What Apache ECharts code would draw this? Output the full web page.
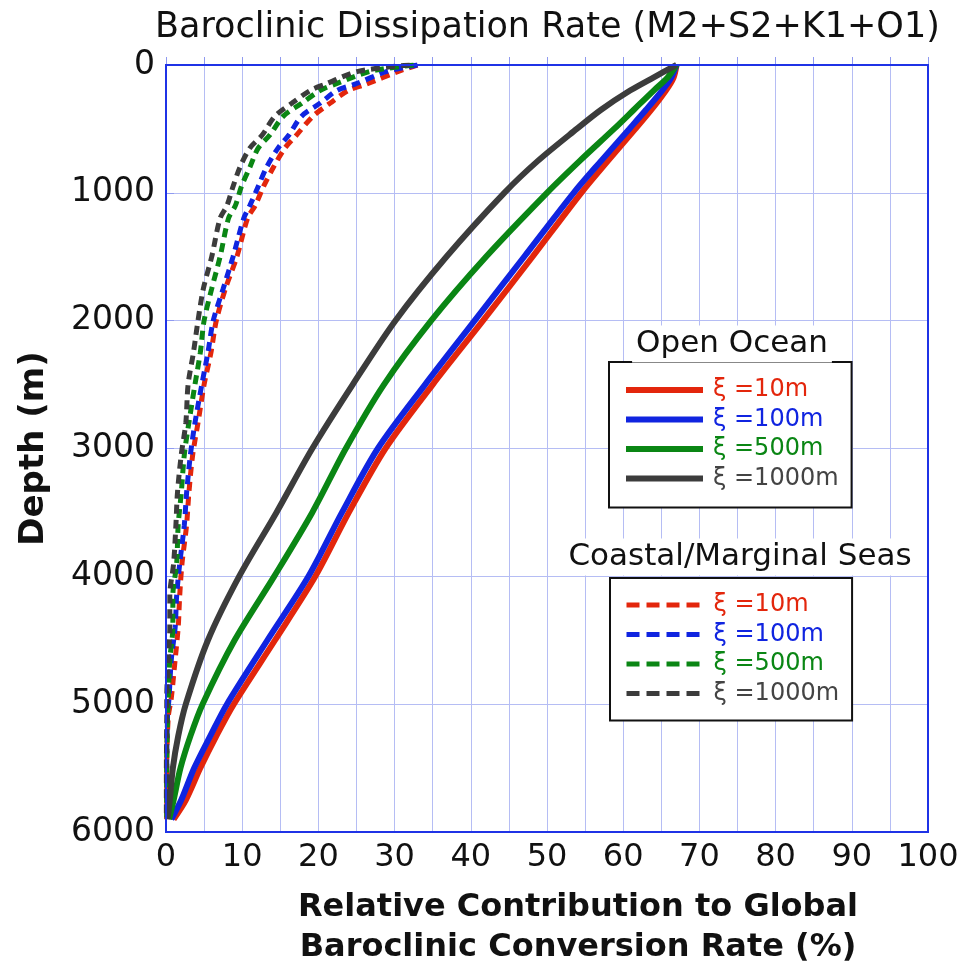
<!DOCTYPE html>
<html>
<head>
<meta charset="utf-8">
<script src="https://cdn.jsdelivr.net/npm/echarts@6/dist/echarts.min.js"></script>
<style>
html, body { margin: 0; padding: 0; background: #fff; }
#main { width: 967px; height: 968px; }
</style>
</head>
<body>
<div id="main"></div>
<script>
// open ocean (solid lines)
var openDepth = [0, 100, 200, 350, 500, 750, 1000, 1500, 2000, 2500, 3000, 3500, 4000, 4500, 5000, 5250, 5500, 5750, 5900];
var open10   = [67, 66.6, 65.6, 63.7, 61.6, 58.0, 54.5, 48.1, 41.6, 35.0, 28.8, 24.0, 19.6, 14.3, 8.9, 6.6, 4.5, 2.6, 1.0];
var open100  = [67, 66.3, 65.1, 63.0, 60.8, 57.1, 53.5, 47.0, 40.5, 34.0, 27.8, 23.1, 18.7, 13.3, 8.0, 5.8, 3.7, 2.0, 0.7];
var open500  = [67, 65.8, 64.0, 61.4, 58.8, 54.3, 50.0, 42.0, 34.8, 28.6, 23.6, 19.2, 14.2, 9.0, 4.8, 3.2, 1.9, 1.0, 0.4];
var open1000 = [67, 63.9, 60.9, 57.1, 53.9, 48.8, 44.4, 36.8, 30.1, 24.5, 19.2, 14.5, 9.6, 5.5, 2.6, 1.6, 0.9, 0.5, 0.2];

// coastal / marginal seas (dashed lines)
var coastDepth = [0, 50, 150, 200, 300, 400, 550, 650, 800, 950, 1100, 1200, 1500, 1750, 2000, 2250, 2500, 2800, 3050, 3350, 3600, 3900, 4150, 4400, 4650, 4950, 5100, 5500, 5900];
var coast10   = [33, 30.5, 26.3, 23.9, 21.5, 19.3, 17.1, 15.6, 14.1, 12.8, 11.7, 10.7, 9.3, 7.8, 6.6, 5.9, 5.0, 4.2, 3.5, 3.0, 2.7, 2.1, 1.8, 1.6, 1.2, 0.7, 0.3, 0.1, 0.1];
var coast100  = [33, 29.0, 24.8, 22.4, 20.2, 17.8, 16.1, 14.7, 13.2, 12.1, 11.0, 10.2, 8.8, 7.5, 6.2, 5.5, 4.7, 3.8, 3.2, 2.7, 2.4, 1.8, 1.4, 1.2, 0.7, 0.4, 0.2, 0.1, 0.1];
var coast500  = [32.5, 26.8, 22.2, 20.2, 17.8, 15.4, 13.6, 12.1, 11.0, 9.9, 9.1, 8.2, 7.1, 6.0, 5.0, 4.5, 3.8, 3.0, 2.4, 2.0, 1.6, 1.4, 0.9, 0.9, 0.5, 0.3, 0.2, 0.1, 0.1];
var coast1000 = [32, 25.2, 20.9, 18.9, 16.5, 14.3, 12.6, 11.0, 9.7, 8.8, 8.0, 7.1, 6.0, 4.9, 4.2, 3.6, 2.9, 2.6, 2.0, 1.5, 1.3, 1.0, 0.5, 0.5, 0.3, 0.1, 0.1, 0.05, 0.05];

var xTicks = [0, 10, 20, 30, 40, 50, 60, 70, 80, 90, 100];
var yTicks = [0, 1000, 2000, 3000, 4000, 5000, 6000];

var colors = { r: '#e3260c', b: '#1024e0', g: '#0a8614', k: '#3c3c3c' };
var labels = {
	o10: 'ξ =10m', o100: 'ξ =100m', o500: 'ξ =500m', o1000: 'ξ =1000m',
	c10: 'ξ =10m', c100: 'ξ =100m', c500: 'ξ =500m', c1000: 'ξ =1000m'
};
var gridColor = '#b5bdf4';
var font = 'DejaVu Sans';

function pairs(vals, depth){
	var out = [];
	for(var i=0; i<vals.length; i++){
		out.push([vals[i], depth[i]]);
	}
	return out;
}

function mkSeries(name, vals, depth, color, dashed){
	return {
		name: name,
		type: 'line',
		data: pairs(vals, depth),
		smooth: 0.3,
		symbol: 'none',
		lineStyle: {
			color: color,
			width: dashed ? 5 : 6,
			type: dashed ? [9, 6] : 'solid'
		},
		itemStyle: { color: color },
		z: dashed ? 3 : 4
	};
}

function legendData(keys, cols){
	var d = [];
	for(var i=0; i<keys.length; i++){
		d.push({ name: keys[i], textStyle: { color: cols[i] } });
	}
	return d;
}

function mkLegend(left, top, pad, keys, dash){
	return {
		left: left, top: top,
		padding: pad,
		orient: 'vertical',
		itemWidth: 77,
		itemHeight: 24,
		itemGap: 5.5,
		backgroundColor: '#fff',
		borderColor: '#111',
		borderWidth: 2,
		borderRadius: 0,
		itemStyle: { opacity: 0 },
		lineStyle: { width: dash ? 5 : 6, type: dash ? [13, 7] : 'solid' },
		textStyle: { fontFamily: font, fontSize: 24, padding: [0, 0, 0, 5] },
		formatter: function(n){ return labels[n]; },
		selectedMode: false,
		data: legendData(keys, [colors.r, colors.b, colors.g, '#444'])
	};
}

var chart = echarts.init(document.getElementById('main'), null, { renderer: 'canvas' });

var option = {
	backgroundColor: '#fff',
	animation: false,
	title: {
		text: 'Baroclinic Dissipation Rate (M2+S2+K1+O1)',
		left: 150,
		top: 5,
		textStyle: { fontFamily: font, fontSize: 35, fontWeight: 'normal', color: '#111' }
	},
	grid: {
		left: 166, right: 39, top: 65, bottom: 136,
		outerBoundsMode: 'none',
		containLabel: false,
		show: true,
		borderColor: '#1f33e6',
		borderWidth: 2,
		z: 5
	},
	xAxis: {
		type: 'value',
		min: 0, max: 100, interval: 10,
		name: 'Relative Contribution to Global\nBaroclinic Conversion Rate (%)',
		nameLocation: 'middle',
		nameGap: 56,
		nameTextStyle: { fontFamily: font, fontSize: 32, fontWeight: 'bold', color: '#111', lineHeight: 40, padding: [0, 0, 0, 62] },
		axisLine: { show: false },
		axisTick: { show: true, inside: true, length: 8, lineStyle: { color: '#8f9af0' } },
		minorTick: { show: true, splitNumber: 2, length: 8, lineStyle: { color: '#8f9af0' } },
		axisLabel: {
			fontFamily: font, fontSize: 32, color: '#111', margin: 10,
			formatter: function(v){ return xTicks.indexOf(v) >= 0 ? String(v) : ''; }
		},
		splitLine: { show: true, lineStyle: { color: gridColor, width: 1 } },
		minorSplitLine: { show: true, lineStyle: { color: gridColor, width: 1 } }
	},
	yAxis: {
		type: 'value',
		inverse: true,
		min: 0, max: 6000, interval: 1000,
		name: 'Depth (m)',
		nameLocation: 'middle',
		nameGap: 115,
		nameTextStyle: { fontFamily: font, fontSize: 34, fontWeight: 'bold', color: '#111' },
		axisLine: { show: false },
		axisTick: { show: true, inside: true, length: 8, lineStyle: { color: '#8f9af0' } },
		axisLabel: {
			fontFamily: font, fontSize: 33, color: '#111', margin: 11,
			formatter: function(v){ return yTicks.indexOf(v) >= 0 ? String(v) : ''; }
		},
		splitLine: { show: true, lineStyle: { color: gridColor, width: 1 } }
	},
	legend: [
		mkLegend(609, 362, [16, 13, 17, 14], ['o10', 'o100', 'o500', 'o1000'], false),
		mkLegend(610, 578, [15, 13, 15, 14], ['c10', 'c100', 'c500', 'c1000'], true)
	],
	graphic: [
		{
			type: 'text', x: 732, y: 344, z: 100,
			style: { text: 'Open Ocean', font: '31px "DejaVu Sans"', fill: '#111', textAlign: 'center', textVerticalAlign: 'middle', backgroundColor: '#fff', padding: [3, 4] }
		},
		{
			type: 'text', x: 740, y: 557, z: 100,
			style: { text: 'Coastal/Marginal Seas', font: '31px "DejaVu Sans"', fill: '#111', textAlign: 'center', textVerticalAlign: 'middle', backgroundColor: '#fff', padding: [3, 4] }
		}
	],
	series: [
		mkSeries('c10', coast10, coastDepth, colors.r, true),
		mkSeries('c100', coast100, coastDepth, colors.b, true),
		mkSeries('c500', coast500, coastDepth, colors.g, true),
		mkSeries('c1000', coast1000, coastDepth, colors.k, true),
		mkSeries('o10', open10, openDepth, colors.r, false),
		mkSeries('o100', open100, openDepth, colors.b, false),
		mkSeries('o500', open500, openDepth, colors.g, false),
		mkSeries('o1000', open1000, openDepth, colors.k, false)
	]
};

chart.setOption(option);
</script>
</body>
</html>
